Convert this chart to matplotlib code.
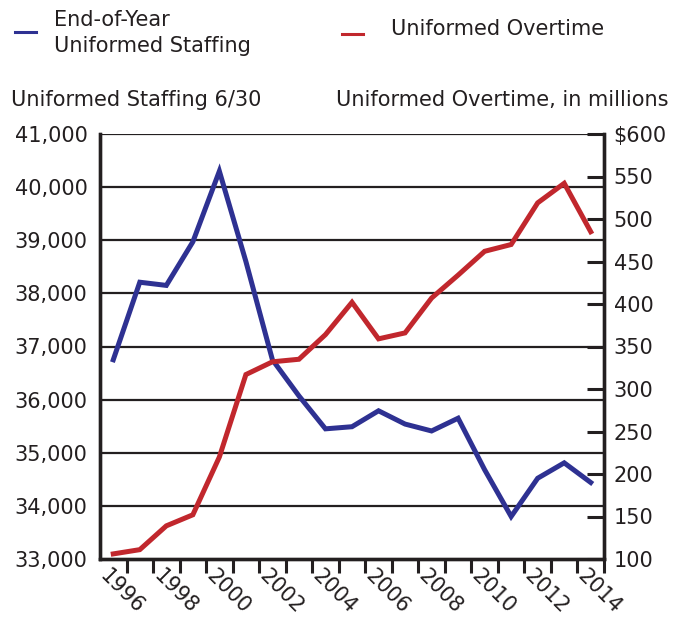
import matplotlib.pyplot as plt
from matplotlib.lines import Line2D
from matplotlib.ticker import FuncFormatter
import matplotlib.transforms as mtransforms

plt.rcParams['font.family'] = ['DejaVu Sans']

years = list(range(1996, 2015))
staffing = [36750, 38210, 38150, 38970, 40300, 38600, 36750, 36070, 35450, 35490,
            35790, 35540, 35410, 35650, 34680, 33800, 34520, 34810, 34440]
overtime = [106, 111, 139, 152, 220, 317, 332, 335, 364, 402,
            359, 366, 407, 434, 462, 470, 519, 542, 485]
year_labels = [str(y) for y in range(1996, 2015, 2)]

blue = '#2e3192'
red = '#c1272d'
ink = '#231f20'
fs = 15

fig = plt.figure(figsize=(6.84, 6.17), dpi=100)
ax = fig.add_axes([100/684, 1-559/617, 504/684, 425/617])
ax2 = ax.twinx()

ax.plot(years, staffing, color=blue, lw=3.6, solid_joinstyle='miter', zorder=3)
ax2.plot(years, overtime, color=red, lw=3.6, solid_joinstyle='miter', zorder=3)

ax.set_xlim(1995.5, 2014.5)
ax.set_ylim(33000, 41000)
ax2.set_ylim(100, 600)

# gridlines on left scale
ax.set_yticks(range(33000, 41001, 1000))
ax.yaxis.set_major_formatter(FuncFormatter(lambda v, p: f'{int(v):,}'))
for v in range(34000, 41001, 1000):
    ax.axhline(v, color=ink, lw=1.6, zorder=1)
ax.tick_params(axis='y', length=0, pad=9, labelsize=fs, labelcolor=ink)

ax2.set_yticks(range(100, 601, 50))
ax2.set_yticklabels([str(v) if v < 600 else '$600' for v in range(100, 601, 50)])
ax2.tick_params(axis='y', direction='in', length=12, width=2.2, color=ink,
                pad=7, labelsize=fs, labelcolor=ink)

ax.set_xticks(range(1996, 2015, 2))
ax.set_xticklabels(year_labels, rotation=-45, ha='center', va='top')
ax.set_xticks([y + 0.5 for y in years], minor=True)
ax.tick_params(axis='x', which='major', length=0, pad=5, labelsize=fs, labelcolor=ink)
ax.tick_params(axis='x', which='minor', direction='out', length=10, width=2.2, color=ink)
offset = mtransforms.ScaledTranslation(0.09, 0, fig.dpi_scale_trans)
for lbl in ax.get_xticklabels():
    lbl.set_transform(lbl.get_transform() + offset)

for a in (ax, ax2):
    a.spines['top'].set_visible(False)
    for s in ('left', 'right', 'bottom'):
        a.spines[s].set_color(ink)
        a.spines[s].set_linewidth(2.4)

# legend and axis titles
fig.add_artist(Line2D([15/684, 36/684], [1-32/617, 1-32/617], color=blue, lw=2.2))
fig.add_artist(Line2D([342/684, 363/684], [1-34/617, 1-34/617], color=red, lw=2.2))
fig.text(54/684, 1-26/617, 'End-of-Year', fontsize=fs, color=ink, va='baseline')
fig.text(54/684, 1-52/617, 'Uniformed Staffing', fontsize=fs, color=ink, va='baseline')
fig.text(391/684, 1-35/617, 'Uniformed Overtime', fontsize=fs, color=ink, va='baseline')
fig.text(11/684, 1-106/617, 'Uniformed Staffing 6/30', fontsize=fs, color=ink,
         va='baseline', ha='left')
fig.text(669/684, 1-106/617, 'Uniformed Overtime, in millions', fontsize=fs, color=ink,
         va='baseline', ha='right')

fig.savefig('out.png', dpi=100)
